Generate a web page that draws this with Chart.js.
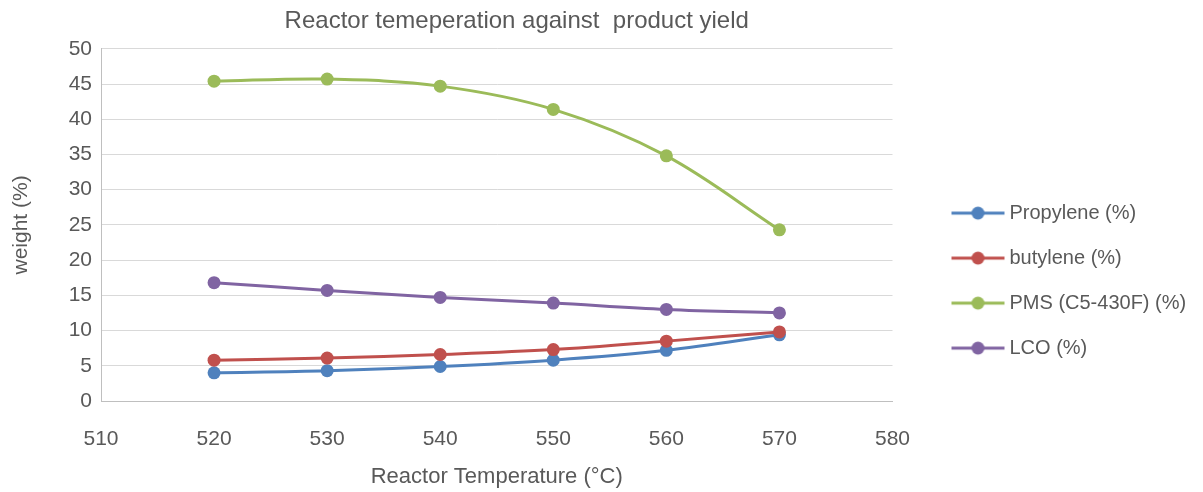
<!DOCTYPE html>
<html lang="en">

<head>
    <meta charset="UTF-8">
    <title>Reactor temperature vs product yield</title>
    <style>
        body { margin: 0; background: #fff; }
    </style>
</head>

<script src="https://cdn.jsdelivr.net/npm/chart.js"></script>

<body>
    <canvas id="yieldChart" width="1203" height="492"></canvas>
</body>
<script>
    // values
    const temps = [520, 530, 540, 550, 560, 570];
    const propylene = [4.0, 4.3, 4.9, 5.8, 7.2, 9.4];
    const butylene = [5.8, 6.1, 6.6, 7.3, 8.5, 9.8];
    const pms = [45.4, 45.7, 44.7, 41.4, 34.8, 24.3];
    const lco = [16.8, 15.7, 14.7, 13.9, 13.0, 12.5];

    const seriesNames = ['Propylene (%)', 'butylene (%)', 'PMS (C5-430F) (%)', 'LCO (%)'];
    const seriesColors = ['#4F81BD', '#C0504D', '#9BBB59', '#8064A2'];
    const seriesValues = [propylene, butylene, pms, lco];

    const textColor = '#595959';
    const font = 'Liberation Sans, Arial, sans-serif';

    // little line + dot picture for the legend (excel style)
    function legendMark(color) {
        const c = document.createElement('canvas');
        c.width = 94;
        c.height = 16;
        const ctx = c.getContext('2d');
        ctx.strokeStyle = color;
        ctx.lineWidth = 3;
        ctx.beginPath();
        ctx.moveTo(40, 8);
        ctx.lineTo(93, 8);
        ctx.stroke();
        ctx.fillStyle = color;
        ctx.beginPath();
        ctx.arc(66.5, 8, 6.5, 0, Math.PI * 2);
        ctx.fill();
        return c;
    }

    const datasets = seriesValues.map((vals, i) => ({
        label: seriesNames[i],
        data: vals.map((v, j) => ({ x: temps[j], y: v })),
        borderColor: seriesColors[i],
        backgroundColor: seriesColors[i],
        borderWidth: 3,
        pointRadius: 6.5,
        pointHoverRadius: 6.5,
        pointBorderWidth: 0,
        tension: 0.35,
        order: 4 - i,   // later series drawn on top like excel
    }));

    const config = {
        type: 'line',
        data: { datasets: datasets },
        options: {
            responsive: false,
            animation: false,
            layout: { padding: { left: 0, right: 13, top: 0, bottom: 0 } },
            plugins: {
                title: {
                    display: true,
                    fullSize: false,
                    text: '      Reactor temeperation against  product yield',
                    color: textColor,
                    font: { family: font, size: 24, weight: 'normal' },
                    padding: { top: 7, bottom: 13 },
                },
                legend: {
                    position: 'right',
                    title: {
                        display: true,
                        text: ' ',
                        font: { size: 1 },
                        padding: { top: 68, bottom: 0 },
                    },
                    labels: {
                        usePointStyle: true,
                        pointStyleWidth: 82,
                        padding: 25,
                        color: textColor,
                        font: { family: font, size: 20 },
                        sort: (a, b) => a.datasetIndex - b.datasetIndex,
                        generateLabels: (chart) => {
                            const items = Chart.defaults.plugins.legend.labels.generateLabels(chart);
                            items.forEach((it) => { it.pointStyle = legendMark(seriesColors[it.datasetIndex]); });
                            return items;
                        },
                    },
                },
                tooltip: { enabled: false },
            },
            scales: {
                x: {
                    type: 'linear',
                    min: 510,
                    max: 580,
                    afterFit: (scale) => { scale.height = 91; },
                    ticks: {
                        stepSize: 10,
                        color: textColor,
                        padding: 26,
                        font: { family: font, size: 21 },
                    },
                    grid: { display: false, drawTicks: false },
                    border: { display: true, color: '#BFBFBF', width: 1 },
                    title: {
                        display: true,
                        text: 'Reactor Temperature (°C)',
                        color: textColor,
                        font: { family: font, size: 22 },
                        padding: { top: 4, bottom: 2 },
                    },
                },
                y: {
                    min: 0,
                    max: 50,
                    afterFit: (scale) => { scale.width = 101; },
                    ticks: {
                        stepSize: 5,
                        color: textColor,
                        padding: 9,
                        font: { family: font, size: 21 },
                    },
                    grid: { color: '#D9D9D9', lineWidth: 1, drawTicks: false },
                    border: { display: true, color: '#BFBFBF', width: 1 },
                    title: {
                        display: true,
                        text: 'weight (%)',
                        color: textColor,
                        font: { family: font, size: 21 },
                        padding: { top: 9, bottom: 4 },
                    },
                },
            },
        },
    };

    const chart = new Chart(document.getElementById('yieldChart'), config);
</script>

</html>
